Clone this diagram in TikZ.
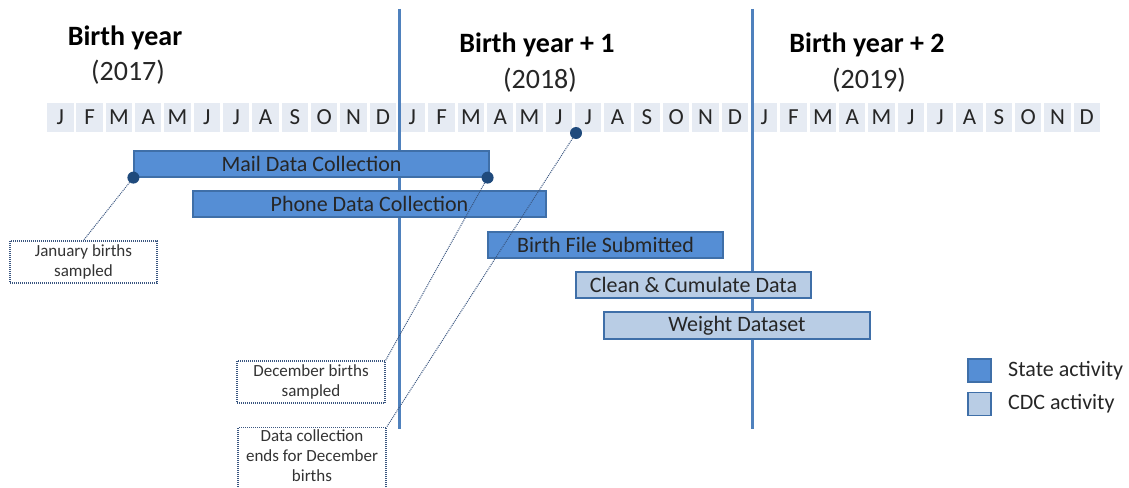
\documentclass[tikz,border=0pt]{standalone}
\usepackage{fontspec}
\setmainfont{Carlito}
\definecolor{stateblue}{HTML}{558ED5}
\definecolor{cdcblue}{HTML}{B9CDE5}
\definecolor{barline}{HTML}{3F6FA8}
\definecolor{yearline}{HTML}{4F81BD}
\definecolor{monthfill}{HTML}{E6EBF3}
\definecolor{dotblue}{HTML}{1F4A7C}
\definecolor{noteline}{HTML}{3A5680}
\tikzset{
	month/.style={fill=monthfill, minimum width=26.5pt, minimum height=29pt, inner sep=0pt, text=black!85, font=\fontsize{23}{23}\selectfont},
	statebar/.style={draw=barline, line width=1.2pt, fill=stateblue, minimum height=26pt, inner sep=0pt, text=black!85, font=\fontsize{22}{22}\selectfont},
	cdcbar/.style={statebar, fill=cdcblue},
	notebox/.style={draw=noteline, line width=1.3pt, dash pattern=on 1pt off 1pt, align=center, inner sep=0pt, text=black!80, font=\fontsize{17}{20.5}\selectfont},
	noteconn/.style={draw=noteline, line width=1pt, dash pattern=on 1pt off 1pt},
	dot/.style={circle, fill=dotblue, minimum size=12pt, inner sep=0pt},
	yeartitle/.style={font=\fontsize{28}{28}\selectfont\bfseries, text=black},
	yearnum/.style={font=\fontsize{28}{28}\selectfont, text=black!85},
	legendlabel/.style={anchor=west, inner sep=0pt, text=black!85, font=\fontsize{22}{22}\selectfont}
}
\begin{document}
\begin{tikzpicture}[x=1pt, y=-1pt]
	\clip (0, 0) rectangle (1129, 487);

	\node[yeartitle] (title1) at (125, 38) {Birth year};
	\node[yearnum] (year1) at (128, 72) {(2017)};
	\node[yeartitle] (title2) at (537, 45) {Birth year + 1};
	\node[yearnum] (year2) at (540, 80) {(2018)};
	\node[yeartitle] (title3) at (867, 45) {Birth year + 2};
	\node[yearnum] (year3) at (869, 80) {(2019)};

	\node[month] (m1) at (60.25, 117.5) {J};
	\node[month] (m2) at (89.58, 117.5) {F};
	\node[month] (m3) at (118.91, 117.5) {M};
	\node[month] (m4) at (148.24, 117.5) {A};
	\node[month] (m5) at (177.57, 117.5) {M};
	\node[month] (m6) at (206.90, 117.5) {J};
	\node[month] (m7) at (236.23, 117.5) {J};
	\node[month] (m8) at (265.56, 117.5) {A};
	\node[month] (m9) at (294.89, 117.5) {S};
	\node[month] (m10) at (324.22, 117.5) {O};
	\node[month] (m11) at (353.55, 117.5) {N};
	\node[month] (m12) at (382.88, 117.5) {D};
	\node[month] (m13) at (412.21, 117.5) {J};
	\node[month] (m14) at (441.54, 117.5) {F};
	\node[month] (m15) at (470.87, 117.5) {M};
	\node[month] (m16) at (500.20, 117.5) {A};
	\node[month] (m17) at (529.53, 117.5) {M};
	\node[month] (m18) at (558.86, 117.5) {J};
	\node[month] (m19) at (588.19, 117.5) {J};
	\node[month] (m20) at (617.52, 117.5) {A};
	\node[month] (m21) at (646.85, 117.5) {S};
	\node[month] (m22) at (676.18, 117.5) {O};
	\node[month] (m23) at (705.51, 117.5) {N};
	\node[month] (m24) at (734.84, 117.5) {D};
	\node[month] (m25) at (764.17, 117.5) {J};
	\node[month] (m26) at (793.50, 117.5) {F};
	\node[month] (m27) at (822.83, 117.5) {M};
	\node[month] (m28) at (852.16, 117.5) {A};
	\node[month] (m29) at (881.49, 117.5) {M};
	\node[month] (m30) at (910.82, 117.5) {J};
	\node[month] (m31) at (940.15, 117.5) {J};
	\node[month] (m32) at (969.48, 117.5) {A};
	\node[month] (m33) at (998.81, 117.5) {S};
	\node[month] (m34) at (1028.14, 117.5) {O};
	\node[month] (m35) at (1057.47, 117.5) {N};
	\node[month] (m36) at (1086.80, 117.5) {D};

	\draw[yearline, line width=3pt] (399, 9) -- (399, 429);
	\draw[yearline, line width=3pt] (752, 9) -- (752, 429);

	\node[statebar, minimum width=355pt] (mail) at (311.5, 164) {Mail Data Collection};
	\node[statebar, minimum width=353pt] (phone) at (369.5, 204) {Phone Data Collection};
	\node[statebar, minimum width=235pt] (birthfile) at (605.5, 245) {Birth File Submitted};
	\node[cdcbar, minimum width=235pt] (clean) at (693.5, 285) {Clean \& Cumulate Data};
	\node[cdcbar, minimum width=266pt, minimum height=27pt] (weight) at (737, 325.5) {Weight Dataset};

	\node[notebox, minimum width=147pt, minimum height=42pt] (jan) at (83.5, 262) {January births\\sampled};
	\node[notebox, minimum width=148pt, minimum height=42pt] (dec) at (311, 382) {December births\\sampled};
	\node[notebox, minimum width=148pt, inner ysep=2pt, anchor=north, font=\fontsize{17}{20}\selectfont] (ends) at (312, 427) {Data collection\\ends for December\\births\\\mbox{}};

	\node[dot] (d1) at (mail.south west) {};
	\node[dot] (d2) at ([xshift=-2pt]mail.south east) {};
	\node[dot] (d3) at (576, 133) {};

	\draw[noteconn] (d1) -- (jan.north);
	\draw[noteconn] (d2) -- (dec.north east);
	\draw[noteconn] (d3) -- (ends.north east);

	\node[statebar, minimum width=23pt, minimum height=23pt] (statekey) at (979.5, 370.5) {};
	\node[cdcbar, minimum width=23pt, minimum height=23pt] (cdckey) at (979.5, 404) {};
	\node[legendlabel] (statetext) at (1008, 371) {State activity};
	\node[legendlabel] (cdctext) at (1008, 404) {CDC activity};
\end{tikzpicture}
\end{document}
